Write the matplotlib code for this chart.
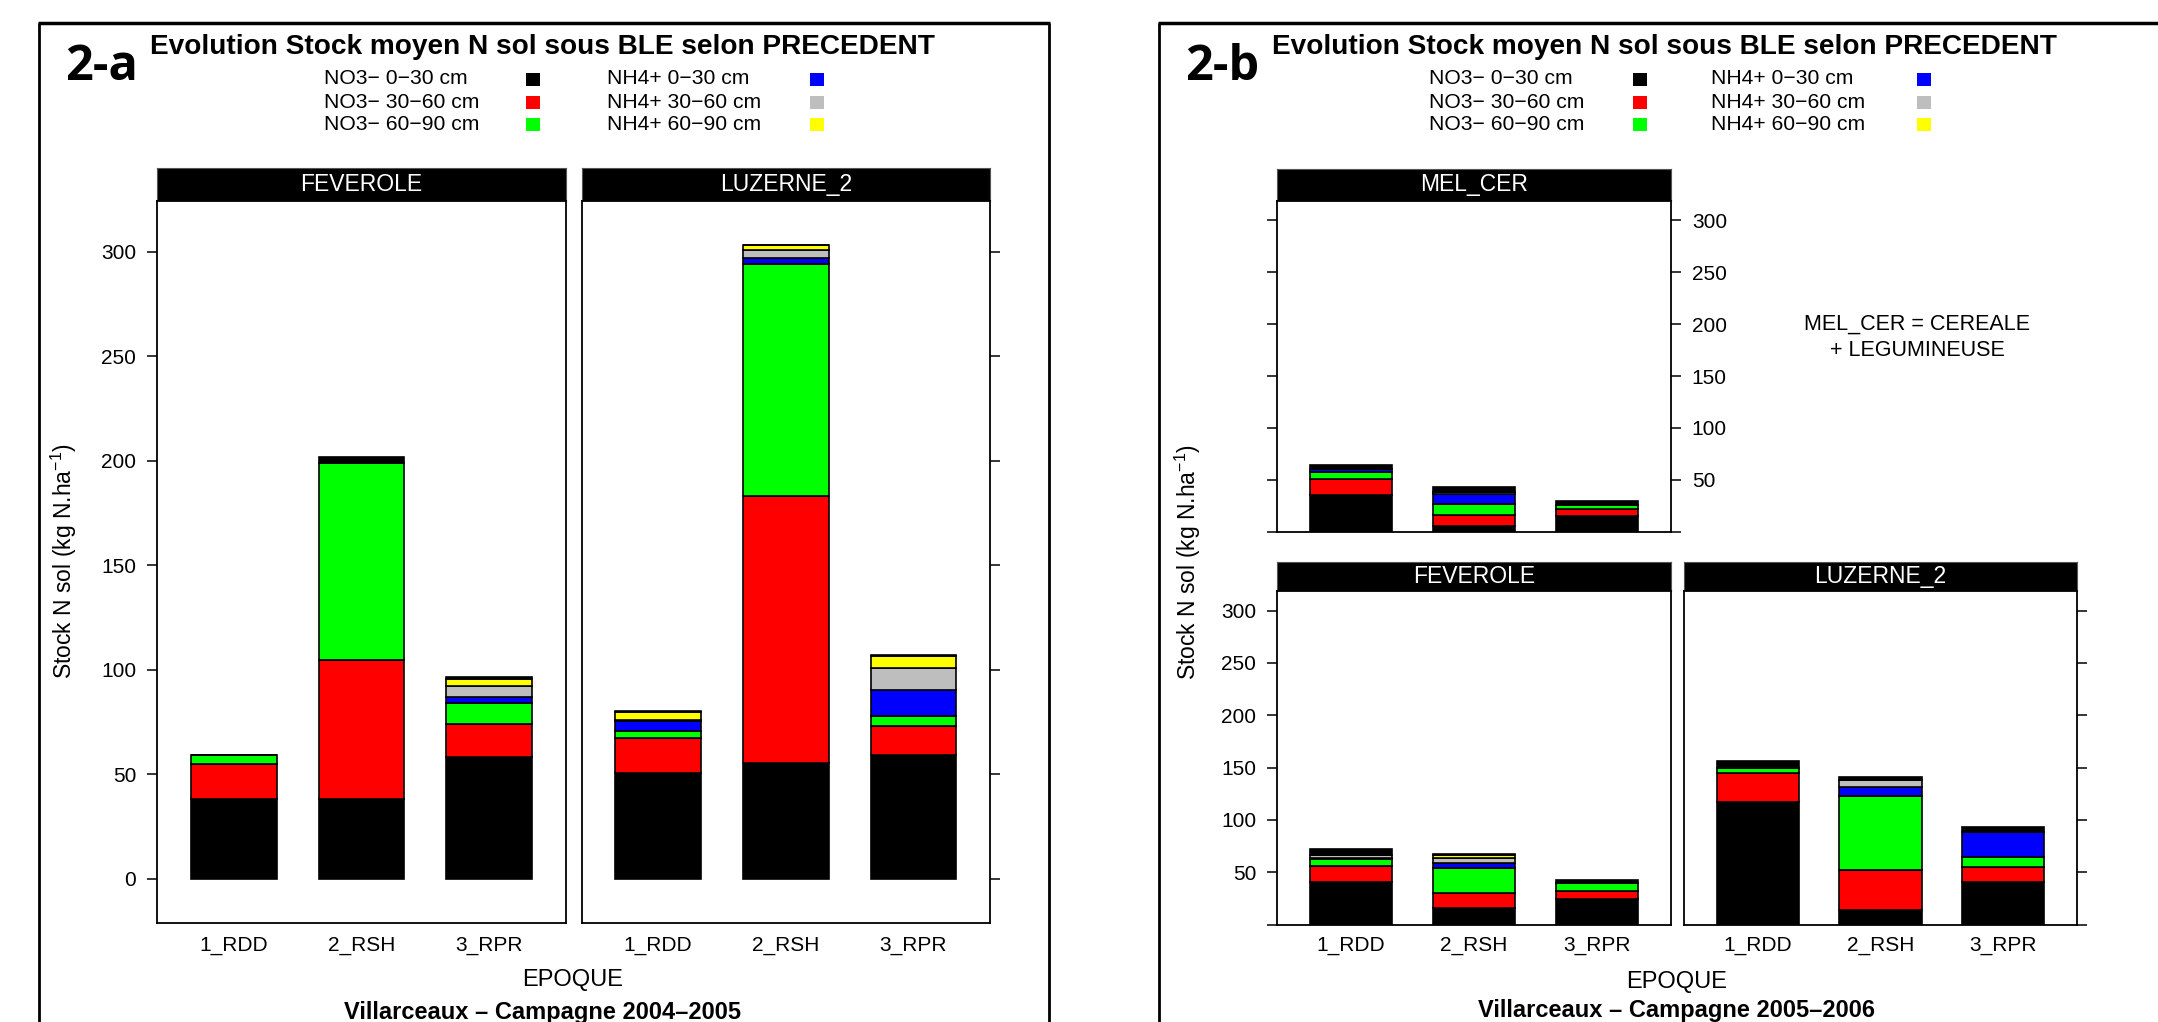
import matplotlib
matplotlib.use("Agg")
import matplotlib.pyplot as plt
from matplotlib.patches import Rectangle
from matplotlib.lines import Line2D
import numpy as np

plt.rcParams['font.family'] = ['Liberation Sans', 'DejaVu Sans']
plt.rcParams['mathtext.fontset'] = 'custom'
plt.rcParams['mathtext.rm'] = 'Liberation Sans'
plt.rcParams['mathtext.it'] = 'Liberation Sans:italic'

W, H = 2158, 1022

# ---- data -------------------------------------------------------------
epoques = ["1_RDD", "2_RSH", "3_RPR"]
couches = ["NO3\u2212 0\u221230 cm", "NO3\u2212 30\u221260 cm", "NO3\u2212 60\u221290 cm",
           "NH4+ 0\u221230 cm", "NH4+ 30\u221260 cm", "NH4+ 60\u221290 cm"]
couleurs = ["#000000", "#FF0000", "#00FF00", "#0000FF", "#BEBEBE", "#FFFF00", "#000000"]

# rows: NO3 0-30, NO3 30-60, NO3 60-90, NH4 0-30, NH4 30-60, NH4 60-90, autres
c0405_feverole = [[38.1, 38.0, 58.0],
                  [16.8, 66.6, 16.0],
                  [4.1, 94.6, 10.2],
                  [0.0, 0.0, 2.9],
                  [0.0, 0.0, 5.1],
                  [0.0, 0.0, 3.6],
                  [0.0, 2.5, 0.8]]
c0405_luzerne = [[50.6, 55.3, 59.0],
                 [16.7, 128.0, 14.2],
                 [3.5, 110.8, 4.5],
                 [4.9, 2.9, 12.7],
                 [0.3, 4.0, 10.4],
                 [3.8, 2.3, 5.6],
                 [0.4, 0.0, 0.5]]

c0506_melcer = [[35.5, 5.8, 15.5],
                [15.5, 10.4, 6.4],
                [6.4, 10.3, 3.9],
                [3.2, 9.7, 0.0],
                [0.0, 2.4, 0.0],
                [0.0, 0.0, 0.0],
                [3.9, 4.0, 3.9]]
c0506_feverole = [[40.9, 16.0, 24.0],
                  [15.3, 14.4, 8.3],
                  [6.1, 23.9, 7.0],
                  [0.8, 4.7, 0.0],
                  [3.2, 4.2, 0.0],
                  [0.0, 3.2, 0.0],
                  [5.5, 1.3, 3.2]]
c0506_luzerne = [[116.8, 14.0, 40.4],
                 [27.7, 38.5, 14.3],
                 [4.8, 70.7, 9.6],
                 [0.0, 7.9, 24.5],
                 [0.0, 7.1, 0.0],
                 [0.0, 0.0, 0.0],
                 [7.3, 3.2, 4.8]]

yticks = [0, 50, 100, 150, 200, 250, 300]

# ---- layout helpers (pixel coordinates, origin top-left) ---------------
fig = plt.figure(figsize=(W / 100, H / 100), dpi=100)


def fbox(x0, y0, x1, y1):
    return [x0 / W, 1 - y1 / H, (x1 - x0) / W, (y1 - y0) / H]


def fpt(x, y):
    return x / W, 1 - y / H


def frame_line(xs, ys, lw=2.0):
    fig.add_artist(Line2D([x / W for x in xs], [1 - y / H for y in ys],
                          color="black", lw=lw, transform=fig.transFigure,
                          solid_capstyle="butt"))


def strip(x0, y0, x1, y1, label):
    s = fig.add_axes(fbox(x0, y0, x1, y1))
    s.set_facecolor("black")
    s.set_xticks([]); s.set_yticks([])
    for sp in s.spines.values():
        sp.set_color("#555555"); sp.set_linewidth(0.8)
    s.text(0.5, 0.5, label, color="white", ha="center", va="center",
           fontsize=16.5, transform=s.transAxes)


def panel(box, data, ylim, tick_side, label_side, show_zero, xpad, xlabels=True):
    ax = fig.add_axes(fbox(*box))
    x = np.arange(1, len(epoques) + 1)
    bottom = np.zeros(len(epoques))
    for vals, col in zip(data, couleurs):
        vals = np.asarray(vals, dtype=float)
        ax.bar(x, vals, width=0.67, bottom=bottom, color=col,
               edgecolor="black", linewidth=1.2, zorder=2)
        bottom += vals
    ax.set_xlim(0.4, 3.6)
    ax.set_ylim(*ylim)
    ax.set_xticks(x)
    ax.set_xticklabels(epoques if xlabels else [""] * len(epoques), fontsize=15)
    ax.set_yticks(yticks)
    ax.set_yticklabels([("" if (t == 0 and not show_zero) else str(t)) for t in yticks],
                       fontsize=15)
    ax.tick_params(axis="x", length=0, pad=xpad)
    ax.tick_params(axis="y", length=7.5, width=1.1, pad=7.5, direction="out",
                   left=("left" in tick_side), right=("right" in tick_side),
                   labelleft=(label_side == "left"), labelright=(label_side == "right"))
    for sp in ax.spines.values():
        sp.set_linewidth(1.3)
    return ax


def key(x_text1, x_sq1, x_text2, x_sq2, rows_y):
    for i in range(3):
        for j, (xt, xs) in enumerate(((x_text1, x_sq1), (x_text2, x_sq2))):
            k = j * 3 + i
            fig.text(*fpt(xt, rows_y[i]), couches[k], fontsize=15.2,
                     ha="left", va="center")
            fig.add_artist(Rectangle(fpt(xs - 7, rows_y[i] + 7), 14 / W, 13 / H,
                                     facecolor=couleurs[k], edgecolor="none",
                                     transform=fig.transFigure))


# ---- campaign 2004-2005 -----------------------------------------------
totaux_a = np.concatenate([np.sum(c0405_feverole, axis=0), np.sum(c0405_luzerne, axis=0)])
span_a = totaux_a.max()
ylim_a = (-0.07 * span_a, 1.07 * span_a)

frame_line([38.6, 38.6], [H + 5, 22.7])
frame_line([37.6, 1050], [22.7, 22.7], lw=2.5)
frame_line([1049, 1049], [22.7, H + 5])

fig.text(*fpt(102, 67), "2-a", fontsize=35, fontweight="bold",
         family="Open Sans", ha="center", va="center")
fig.text(*fpt(542, 46.7), "Evolution Stock moyen N sol sous BLE selon PRECEDENT",
         fontsize=20.2, fontweight="bold", ha="center", va="center")
key(324, 533, 607, 817, [79, 102, 124])

strip(157, 168, 566, 200.7, "FEVEROLE")
strip(581.6, 168, 990, 200.7, "LUZERNE_2")
panel((157, 200.7, 566, 923), c0405_feverole, ylim_a, ("left",), "left", True, 9)
panel((581.6, 200.7, 990, 923), c0405_luzerne, ylim_a, ("right",), None, True, 9)

fig.text(*fpt(64, 561), "Stock N sol (kg N.ha$^{-1}$)", rotation=90,
         fontsize=16.5, ha="center", va="center")
fig.text(*fpt(573, 980), "EPOQUE", fontsize=17, ha="center", va="center")
fig.text(*fpt(543, 1012), "Villarceaux \u2013 Campagne 2004\u20132005", fontsize=17,
         fontweight="bold", ha="center", va="center")

# ---- campaign 2005-2006 -----------------------------------------------
ylim_b = (0, 319)

frame_line([1159, 1159], [H + 5, 22.7])
frame_line([1158, W + 5], [22.7, 22.7], lw=2.5)

fig.text(*fpt(1222, 67), "2-b", fontsize=35, fontweight="bold",
         family="Open Sans", ha="center", va="center")
fig.text(*fpt(1664, 46.7), "Evolution Stock moyen N sol sous BLE selon PRECEDENT",
         fontsize=20.2, fontweight="bold", ha="center", va="center")
key(1429, 1640, 1711, 1924, [79, 102, 124])

strip(1277, 169, 1671, 200.7, "MEL_CER")
panel((1277, 200.7, 1671, 531.7), c0506_melcer, ylim_b, ("left", "right"), "right",
      False, 8, xlabels=False)
strip(1277, 561.7, 1671, 590.7, "FEVEROLE")
strip(1684, 561.7, 2077, 590.7, "LUZERNE_2")
panel((1277, 590.7, 1671, 924.5), c0506_feverole, ylim_b, ("left",), "left", False, 8)
panel((1684, 590.7, 2077, 924.5), c0506_luzerne, ylim_b, ("right",), None, False, 8)

fig.text(*fpt(1917, 324), "MEL_CER = CEREALE", fontsize=15.5, ha="center", va="center")
fig.text(*fpt(1917, 350), "+ LEGUMINEUSE", fontsize=15.5, ha="center", va="center")

fig.text(*fpt(1188, 562), "Stock N sol (kg N.ha$^{-1}$)", rotation=90,
         fontsize=16.5, ha="center", va="center")
fig.text(*fpt(1677, 982), "EPOQUE", fontsize=17, ha="center", va="center")
fig.text(*fpt(1677, 1010), "Villarceaux \u2013 Campagne 2005\u20132006", fontsize=17,
         fontweight="bold", ha="center", va="center")

fig.savefig("out.png", dpi=100, facecolor="white")
